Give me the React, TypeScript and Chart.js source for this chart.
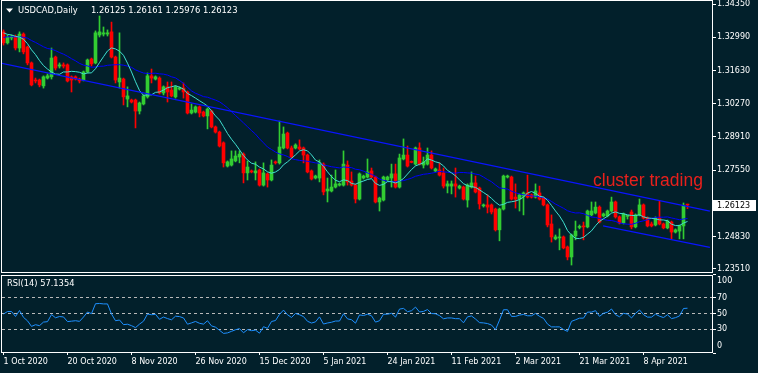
import React, { useEffect, useRef } from "react";
import { Chart, registerables } from "chart.js";

Chart.register(...registerables);

// ---------------- data ----------------
const symbolTitle = "USDCAD,Daily";
const dateTickLabels = [
  "1 Oct 2020", "20 Oct 2020", "8 Nov 2020", "26 Nov 2020", "15 Dec 2020", "5 Jan 2021",
  "24 Jan 2021", "11 Feb 2021", "2 Mar 2021", "21 Mar 2021", "8 Apr 2021",
];
const barsPerDateLabel = 16;
const priceTicks = [1.2351, 1.2483, 1.2755, 1.2891, 1.3027, 1.3163, 1.3299, 1.3435];
const rsiTicks = [0, 30, 50, 70, 100];
const rsiLevels = [30, 50, 70];
const rsiPeriod = 14;
const fastMaPeriod = 8;
const slowMaPeriod = 21;
const rsiReadout = "57.1354";
const annotationText = "cluster trading";

// closes before the first visible bar (only used to seed the indicators)
const warmupCloses = [
  1.3260, 1.3285, 1.3270, 1.3300, 1.3290, 1.3265, 1.3310, 1.3280, 1.3295, 1.3320,
  1.3290, 1.3270, 1.3300, 1.3350, 1.3320, 1.3300, 1.3335, 1.3310, 1.3340, 1.3305,
];

const opens = [
  1.3321, 1.3276, 1.3296, 1.3300, 1.3255, 1.3312, 1.3259, 1.3194, 1.3124, 1.3124,
  1.3100, 1.3132, 1.3137, 1.3218, 1.3181, 1.3186, 1.3186, 1.3137, 1.3137, 1.3128,
  1.3124, 1.3157, 1.3210, 1.3194, 1.3308, 1.3312, 1.3312, 1.3321, 1.3218, 1.3116,
  1.3128, 1.3046, 1.3042, 1.3042, 1.2997, 1.3026, 1.3055, 1.3141, 1.3128, 1.3132,
  1.3071, 1.3096, 1.3083, 1.3055, 1.3087, 1.3091, 1.3075, 1.2989, 1.2993, 1.3014,
  1.2993, 1.2977, 1.2997, 1.2932, 1.2911, 1.2867, 1.2772, 1.2776, 1.2793, 1.2809,
  1.2821, 1.2744, 1.2752, 1.2744, 1.2756, 1.2694, 1.2740, 1.2715, 1.2789, 1.2785,
  1.2846, 1.2907, 1.2846, 1.2846, 1.2850, 1.2846, 1.2817, 1.2752, 1.2723, 1.2723,
  1.2780, 1.2670, 1.2670, 1.2686, 1.2694, 1.2694, 1.2776, 1.2711, 1.2694, 1.2637,
  1.2723, 1.2727, 1.2752, 1.2727, 1.2625, 1.2633, 1.2715, 1.2723, 1.2740, 1.2686,
  1.2801, 1.2817, 1.2789, 1.2780, 1.2846, 1.2776, 1.2780, 1.2817, 1.2752, 1.2756,
  1.2744, 1.2690, 1.2690, 1.2699, 1.2682, 1.2686, 1.2633, 1.2686, 1.2703, 1.2682,
  1.2609, 1.2613, 1.2613, 1.2596, 1.2511, 1.2596, 1.2727, 1.2727, 1.2645, 1.2637,
  1.2649, 1.2662, 1.2654, 1.2645, 1.2662, 1.2641, 1.2613, 1.2535, 1.2474, 1.2478,
  1.2482, 1.2441, 1.2400, 1.2486, 1.2521, 1.2527, 1.2523, 1.2572, 1.2580, 1.2604,
  1.2568, 1.2568, 1.2588, 1.2625, 1.2564, 1.2539, 1.2566, 1.2584, 1.2523, 1.2572,
  1.2613, 1.2559, 1.2535, 1.2531, 1.2559, 1.2535, 1.2519, 1.2543, 1.2502, 1.2506,
  1.2527, 1.26125,
];
const highs = [
  1.3329, 1.3308, 1.3308, 1.3308, 1.3321, 1.3317, 1.3263, 1.3198, 1.3132, 1.3128,
  1.3141, 1.3149, 1.3255, 1.3222, 1.3194, 1.3194, 1.3190, 1.3141, 1.3141, 1.3132,
  1.3161, 1.3210, 1.3214, 1.3325, 1.3386, 1.3341, 1.3329, 1.3361, 1.3222, 1.3317,
  1.3132, 1.3096, 1.3046, 1.3046, 1.3034, 1.3063, 1.3153, 1.3169, 1.3141, 1.3137,
  1.3100, 1.3116, 1.3116, 1.3100, 1.3096, 1.3112, 1.3079, 1.3026, 1.3018, 1.3018,
  1.2997, 1.3010, 1.3001, 1.2936, 1.2915, 1.2871, 1.2793, 1.2834, 1.2834, 1.2834,
  1.2826, 1.2793, 1.2756, 1.2789, 1.2760, 1.2785, 1.2744, 1.2797, 1.2793, 1.2956,
  1.2932, 1.2911, 1.2854, 1.2863, 1.2879, 1.2850, 1.2821, 1.2756, 1.2735, 1.2797,
  1.2785, 1.2723, 1.2735, 1.2756, 1.2703, 1.2834, 1.2793, 1.2748, 1.2699, 1.2744,
  1.2735, 1.2801, 1.2764, 1.2731, 1.2645, 1.2731, 1.2731, 1.2780, 1.2780, 1.2821,
  1.2883, 1.2854, 1.2793, 1.2850, 1.2867, 1.2809, 1.2846, 1.2834, 1.2764, 1.2785,
  1.2764, 1.2711, 1.2711, 1.2764, 1.2694, 1.2690, 1.2699, 1.2748, 1.2731, 1.2686,
  1.2617, 1.2654, 1.2617, 1.2600, 1.2600, 1.2735, 1.2735, 1.2731, 1.2699, 1.2658,
  1.2666, 1.2735, 1.2658, 1.2699, 1.2690, 1.2645, 1.2617, 1.2572, 1.2490, 1.2515,
  1.2486, 1.2445, 1.2494, 1.2547, 1.2531, 1.2543, 1.2592, 1.2625, 1.2625, 1.2609,
  1.2580, 1.2592, 1.2645, 1.2629, 1.2568, 1.2580, 1.2570, 1.2592, 1.2576, 1.2637,
  1.2617, 1.2564, 1.2543, 1.2564, 1.2629, 1.2539, 1.2551, 1.2547, 1.2515, 1.2531,
  1.2621, 1.26161,
];
const lows = [
  1.3267, 1.3271, 1.3288, 1.3247, 1.3239, 1.3231, 1.3186, 1.3100, 1.3112, 1.3096,
  1.3091, 1.3128, 1.3128, 1.3165, 1.3173, 1.3173, 1.3116, 1.3075, 1.3124, 1.3112,
  1.3120, 1.3153, 1.3181, 1.3190, 1.3300, 1.3304, 1.3304, 1.3214, 1.3112, 1.3091,
  1.3022, 1.3014, 1.3030, 1.2928, 1.2985, 1.3022, 1.3050, 1.3112, 1.3124, 1.3067,
  1.3063, 1.3034, 1.3055, 1.3050, 1.3083, 1.3050, 1.2985, 1.2985, 1.2989, 1.2973,
  1.2973, 1.2924, 1.2928, 1.2907, 1.2850, 1.2768, 1.2768, 1.2772, 1.2789, 1.2785,
  1.2703, 1.2715, 1.2744, 1.2715, 1.2690, 1.2690, 1.2686, 1.2711, 1.2780, 1.2780,
  1.2842, 1.2842, 1.2805, 1.2842, 1.2838, 1.2785, 1.2744, 1.2715, 1.2719, 1.2707,
  1.2654, 1.2625, 1.2666, 1.2682, 1.2690, 1.2690, 1.2694, 1.2690, 1.2621, 1.2633,
  1.2719, 1.2723, 1.2723, 1.2621, 1.2588, 1.2629, 1.2711, 1.2686, 1.2682, 1.2682,
  1.2797, 1.2768, 1.2785, 1.2776, 1.2776, 1.2764, 1.2776, 1.2760, 1.2748, 1.2731,
  1.2682, 1.2662, 1.2658, 1.2645, 1.2678, 1.2633, 1.2604, 1.2682, 1.2662, 1.2596,
  1.2604, 1.2580, 1.2576, 1.2506, 1.2466, 1.2592, 1.2723, 1.2633, 1.2600, 1.2588,
  1.2572, 1.2641, 1.2641, 1.2641, 1.2633, 1.2609, 1.2523, 1.2461, 1.2470, 1.2429,
  1.2433, 1.2388, 1.2367, 1.2470, 1.2515, 1.2470, 1.2519, 1.2568, 1.2576, 1.2539,
  1.2564, 1.2564, 1.2584, 1.2559, 1.2535, 1.2535, 1.2555, 1.2515, 1.2519, 1.2568,
  1.2555, 1.2523, 1.2523, 1.2527, 1.2531, 1.2515, 1.2515, 1.2474, 1.2498, 1.2474,
  1.2474, 1.25976,
];
const closes = [
  1.3276, 1.3300, 1.3300, 1.3255, 1.3312, 1.3239, 1.3194, 1.3104, 1.3120, 1.3104,
  1.3137, 1.3141, 1.3214, 1.3173, 1.3186, 1.3181, 1.3120, 1.3124, 1.3128, 1.3120,
  1.3157, 1.3206, 1.3190, 1.3317, 1.3321, 1.3317, 1.3317, 1.3218, 1.3124, 1.3132,
  1.3055, 1.3059, 1.3034, 1.2997, 1.3030, 1.3059, 1.3141, 1.3132, 1.3137, 1.3071,
  1.3096, 1.3075, 1.3059, 1.3096, 1.3091, 1.3075, 1.2989, 1.3001, 1.3014, 1.2989,
  1.2977, 1.3005, 1.2932, 1.2911, 1.2854, 1.2785, 1.2789, 1.2801, 1.2813, 1.2821,
  1.2744, 1.2768, 1.2748, 1.2752, 1.2694, 1.2744, 1.2715, 1.2776, 1.2785, 1.2850,
  1.2903, 1.2846, 1.2809, 1.2858, 1.2842, 1.2817, 1.2748, 1.2719, 1.2731, 1.2785,
  1.2666, 1.2678, 1.2686, 1.2699, 1.2699, 1.2780, 1.2707, 1.2694, 1.2637, 1.2740,
  1.2731, 1.2748, 1.2727, 1.2625, 1.2641, 1.2727, 1.2727, 1.2740, 1.2686, 1.2805,
  1.2817, 1.2772, 1.2787, 1.2846, 1.2780, 1.2789, 1.2817, 1.2764, 1.2760, 1.2735,
  1.2690, 1.2699, 1.2699, 1.2690, 1.2690, 1.2637, 1.2694, 1.2703, 1.2666, 1.2617,
  1.2613, 1.2604, 1.2584, 1.2511, 1.2596, 1.2731, 1.2731, 1.2637, 1.2637, 1.2654,
  1.2662, 1.2645, 1.2645, 1.2670, 1.2637, 1.2613, 1.2531, 1.2482, 1.2482, 1.2482,
  1.2437, 1.2400, 1.2490, 1.2506, 1.2523, 1.2523, 1.2588, 1.2588, 1.2604, 1.2543,
  1.2576, 1.2588, 1.2625, 1.2564, 1.2539, 1.2576, 1.2568, 1.2523, 1.2572, 1.2613,
  1.2559, 1.2527, 1.2527, 1.2559, 1.2535, 1.2519, 1.2547, 1.2502, 1.2511, 1.2527,
  1.2609, 1.26123,
];

// hand-drawn channel lines: endpoints as (bar index, price)
const trendUpper = [{ x: -0.9, y: 1.3194 }, { x: 176.6, y: 1.2588 }];
const trendLower = [{ x: 149.9, y: 1.2527 }, { x: 176.6, y: 1.2439 }];

// ---------------- style ----------------
const BG = "#02202b";
const FRAME = "#ffffff";
const UP = "#32cd32";
const DOWN = "#ff0000";
const MA_FAST = "#40e0d0";
const MA_SLOW = "#0000ff";
const TREND = "#0a14ff";
const RSI_COLOR = "#1e90ff";
const TEXT = "#ffffff";
const FONT = "'DejaVu Sans', Verdana, sans-serif";
const NOTE_FONT = "'Liberation Sans', Arial, sans-serif";

const X_MIN = -0.375;
const X_MAX = 177.125;
const AXIS_W = 46;

// ---------------- indicators ----------------
const allCloses = [...warmupCloses, ...closes];
function sma(period: number) {
  return closes.map((_, i) => {
    const end = warmupCloses.length + i;
    let s = 0;
    for (let k = end - period + 1; k <= end; k++) s += allCloses[k];
    return s / period;
  });
}
function rsi(period: number) {
  const n = allCloses.length;
  let g = 0;
  let l = 0;
  for (let k = 1; k <= period; k++) {
    const d = allCloses[k] - allCloses[k - 1];
    if (d > 0) g += d;
    else l -= d;
  }
  g /= period;
  l /= period;
  const out: number[] = new Array(n).fill(NaN);
  out[period] = l === 0 ? 100 : 100 - 100 / (1 + g / l);
  for (let k = period + 1; k < n; k++) {
    const d = allCloses[k] - allCloses[k - 1];
    g = (g * (period - 1) + Math.max(d, 0)) / period;
    l = (l * (period - 1) + Math.max(-d, 0)) / period;
    out[k] = l === 0 ? 100 : 100 - 100 / (1 + g / l);
  }
  return out.slice(warmupCloses.length);
}

const bgPlugin = {
  id: "bgfill",
  beforeDraw(chart: any) {
    const { ctx, width, height } = chart;
    ctx.save();
    ctx.fillStyle = BG;
    ctx.fillRect(0, 0, width, height);
    ctx.restore();
  },
};
const framePlugin = {
  id: "frame",
  afterDraw(chart: any) {
    const { ctx, chartArea: a } = chart;
    ctx.save();
    ctx.strokeStyle = FRAME;
    ctx.lineWidth = 1;
    ctx.strokeRect(a.left - 0.5, a.top - 0.5, a.right - a.left + 1, a.bottom - a.top + 1);
    ctx.restore();
  },
};

export default function App() {
  const mainRef = useRef<HTMLCanvasElement>(null);
  const rsiRef = useRef<HTMLCanvasElement>(null);

  useEffect(() => {
    const idx = closes.map((_, i) => i);
    const fast = sma(fastMaPeriod);
    const slow = sma(slowMaPeriod);
    const rsiVals = rsi(rsiPeriod);
    const candleColors = idx.map((i) => (closes[i] > opens[i] ? UP : DOWN));
    const last = closes.length - 1;
    const fmt = (v: number) => v.toFixed(5);

    const overlayPlugin = {
      id: "overlay",
      afterDraw(chart: any) {
        const { ctx } = chart;
        const yScale = chart.scales.y;
        ctx.save();
        // header
        ctx.fillStyle = TEXT;
        ctx.beginPath();
        ctx.moveTo(6, 8.5);
        ctx.lineTo(13, 8.5);
        ctx.lineTo(9.5, 12.5);
        ctx.closePath();
        ctx.fill();
        ctx.font = `8.4px ${FONT}`;
        ctx.textBaseline = "middle";
        ctx.textAlign = "left";
        ctx.fillText(symbolTitle, 18, 10.5);
        ctx.fillText(
          [opens[last], highs[last], lows[last], closes[last]].map(fmt).join(" "),
          91,
          10.5
        );
        // annotation text
        ctx.fillStyle = "#e8201c";
        ctx.font = `17.5px ${NOTE_FONT}`;
        ctx.textBaseline = "alphabetic";
        ctx.fillText(annotationText, 593, 186);
        // current price box
        const py = Math.round(yScale.getPixelForValue(closes[last]));
        ctx.fillStyle = "#ffffff";
        ctx.fillRect(713, py - 5, 43, 11);
        ctx.fillStyle = "#000000";
        ctx.font = `8px ${FONT}`;
        ctx.textBaseline = "middle";
        ctx.fillText(fmt(closes[last]), 717, py + 0.5);
        ctx.restore();
      },
    };

    const main = new Chart(mainRef.current as HTMLCanvasElement, {
      type: "bar",
      data: {
        datasets: [
          {
            type: "bar",
            data: idx.map((i) => ({ x: i, y: [lows[i], highs[i]] })),
            backgroundColor: candleColors,
            barThickness: 1,
            grouped: false,
            borderWidth: 0,
            minBarLength: 1,
            order: 5,
          } as any,
          {
            type: "bar",
            data: idx.map((i) => ({ x: i, y: [opens[i], closes[i]] })),
            backgroundColor: candleColors,
            barThickness: 3,
            grouped: false,
            borderWidth: 0,
            minBarLength: 1,
            order: 4,
          } as any,
          {
            type: "line",
            data: idx.map((i) => ({ x: i, y: slow[i] })),
            borderColor: MA_SLOW,
            borderWidth: 1,
            pointRadius: 0,
            tension: 0,
            order: 3,
          } as any,
          {
            type: "line",
            data: idx.map((i) => ({ x: i, y: fast[i] })),
            borderColor: MA_FAST,
            borderWidth: 1,
            pointRadius: 0,
            tension: 0,
            order: 2,
          } as any,
          {
            type: "line",
            data: trendUpper,
            borderColor: TREND,
            borderWidth: 1.3,
            pointRadius: 0,
            order: 1,
          } as any,
          {
            type: "line",
            data: trendLower,
            borderColor: TREND,
            borderWidth: 1.3,
            pointRadius: 0,
            order: 0,
          } as any,
        ],
      },
      options: {
        animation: false,
        responsive: false,
        maintainAspectRatio: false,
        events: [],
        layout: { padding: { left: 2, top: 1, right: 0, bottom: 1 } },
        plugins: { legend: { display: false }, tooltip: { enabled: false } },
        scales: {
          x: {
            type: "linear",
            min: X_MIN,
            max: X_MAX,
            offset: false,
            display: false,
            grid: { offset: false },
          },
          y: {
            type: "linear",
            position: "right",
            min: 1.23385,
            max: 1.34473,
            beginAtZero: false,
            afterBuildTicks: (s: any) => {
              s.ticks = priceTicks.map((v) => ({ value: v }));
            },
            afterFit: (s: any) => {
              s.width = AXIS_W;
              s.paddingTop = 0;
              s.paddingBottom = 0;
            },
            ticks: {
              callback: (v: any) => Number(v).toFixed(5),
              color: TEXT,
              font: { family: FONT, size: 8 },
              padding: 1,
              autoSkip: false,
            },
            grid: {
              display: true,
              drawOnChartArea: false,
              drawTicks: true,
              tickLength: 4,
              tickColor: FRAME,
              color: FRAME,
            },
            border: { display: true, color: FRAME },
          },
        },
      } as any,
      plugins: [bgPlugin, framePlugin, overlayPlugin],
    });

    const rsiLabelPlugin = {
      id: "rsilabel",
      afterDraw(chart: any) {
        const { ctx } = chart;
        ctx.save();
        ctx.fillStyle = TEXT;
        ctx.font = `8.3px ${FONT}`;
        ctx.textBaseline = "middle";
        ctx.textAlign = "left";
        ctx.fillText(`RSI(${rsiPeriod}) ${rsiReadout}`, 7, 11);
        ctx.restore();
      },
    };

    const rsiChart = new Chart(rsiRef.current as HTMLCanvasElement, {
      type: "line",
      data: {
        datasets: [
          {
            data: idx.map((i) => ({ x: i, y: rsiVals[i] })),
            borderColor: RSI_COLOR,
            borderWidth: 1,
            pointRadius: 0,
            tension: 0,
          },
        ],
      },
      options: {
        animation: false,
        responsive: false,
        maintainAspectRatio: false,
        events: [],
        layout: { padding: { left: 2, top: 3, right: 0, bottom: 0 } },
        plugins: { legend: { display: false }, tooltip: { enabled: false } },
        scales: {
          x: {
            type: "linear",
            min: X_MIN,
            max: X_MAX,
            offset: false,
            afterBuildTicks: (s: any) => {
              s.ticks = dateTickLabels.map((_, k) => ({ value: k * barsPerDateLabel }));
            },
            afterFit: (s: any) => {
              s.height = 21;
              s.paddingLeft = 0;
              s.paddingRight = 0;
            },
            ticks: {
              callback: (_v: any, index: number) => dateTickLabels[index],
              align: "start",
              autoSkip: false,
              maxRotation: 0,
              minRotation: 0,
              color: TEXT,
              font: { family: FONT, size: 8 },
              padding: 2,
            },
            grid: {
              display: true,
              drawOnChartArea: false,
              drawTicks: true,
              tickLength: 3,
              tickColor: FRAME,
              color: FRAME,
            },
            border: { display: false },
          },
          y: {
            type: "linear",
            position: "right",
            min: 1.27,
            max: 97.47,
            afterBuildTicks: (s: any) => {
              s.ticks = rsiTicks.map((v) => ({ value: v }));
            },
            afterFit: (s: any) => {
              s.width = AXIS_W;
              s.paddingTop = 0;
              s.paddingBottom = 0;
            },
            ticks: {
              callback: (v: any) => {
                const n = Number(v);
                if (n === 100) return ["", "100"];
                if (n === 0) return ["0", ""];
                return String(n);
              },
              color: TEXT,
              font: { family: FONT, size: 8, lineHeight: 1.7 },
              padding: 1,
              autoSkip: false,
            },
            grid: {
              display: true,
              drawOnChartArea: true,
              drawTicks: true,
              tickLength: 4,
              tickColor: FRAME,
              color: (c: any) =>
                c.tick && rsiLevels.includes(c.tick.value) ? "#b9b9b9" : "rgba(0,0,0,0)",
            },
            border: { display: true, color: FRAME, dash: [3, 3] },
          },
        },
      } as any,
      plugins: [bgPlugin, framePlugin, rsiLabelPlugin],
    });

    return () => {
      main.destroy();
      rsiChart.destroy();
    };
  }, []);

  return (
    <div
      style={{
        position: "fixed",
        left: 0,
        top: 0,
        width: 758,
        height: 373,
        background: BG,
        overflow: "hidden",
      }}
    >
      <canvas
        ref={mainRef}
        width={758}
        height={273}
        style={{ position: "absolute", left: 0, top: 0, width: 758, height: 273 }}
      />
      <canvas
        ref={rsiRef}
        width={758}
        height={100}
        style={{ position: "absolute", left: 0, top: 273, width: 758, height: 100 }}
      />
    </div>
  );
}
